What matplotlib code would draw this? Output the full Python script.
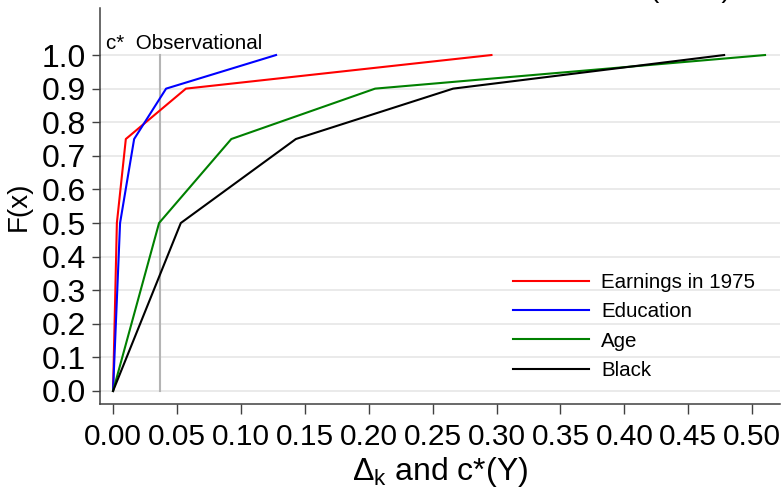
import matplotlib
matplotlib.use("Agg")
import matplotlib.pyplot as plt

plt.rcParams['font.family'] = ['Liberation Sans', 'DejaVu Sans']
plt.rcParams['mathtext.fontset'] = 'custom'
plt.rcParams['mathtext.rm'] = 'Liberation Sans'
plt.rcParams['mathtext.it'] = 'Liberation Sans:italic'

# CDF points for each covariate: (delta_k, F(x))
earn_x = [0.0, 0.003, 0.010, 0.057, 0.296]
earn_y = [0.0, 0.50, 0.75, 0.90, 1.00]
educ_x = [0.0, 0.0055, 0.0165, 0.0415, 0.1275]
educ_y = [0.0, 0.50, 0.75, 0.90, 1.00]
age_x = [0.0, 0.036, 0.0925, 0.205, 0.510]
age_y = [0.0, 0.50, 0.75, 0.90, 1.00]
black_x = [0.0, 0.053, 0.143, 0.266, 0.478]
black_y = [0.0, 0.50, 0.75, 0.90, 1.00]

c_star = 0.0368  # observational c*
xticks = [0.00, 0.05, 0.10, 0.15, 0.20, 0.25, 0.30, 0.35, 0.40, 0.45, 0.50]
yticks = [0.0, 0.1, 0.2, 0.3, 0.4, 0.5, 0.6, 0.7, 0.8, 0.9, 1.0]

fig = plt.figure(figsize=(7.83, 4.92), dpi=100)
ax = fig.add_axes([100/783, 1 - 404/492, 680/783, 396/492])

for yv in yticks:
    ax.axhline(yv, color='#e6e6e6', lw=1.2, zorder=0)

ax.plot([c_star, c_star], [0, 1.0], color='#b4b4b4', lw=1.5, zorder=1)
ax.text(-0.0055, 1.018, "c*  Observational", fontsize=14.8, ha='left', va='baseline')

ax.plot(earn_x, earn_y, color='#ff0000', lw=1.5, label='Earnings in 1975')
ax.plot(educ_x, educ_y, color='#0000ff', lw=1.5, label='Education')
ax.plot(age_x, age_y, color='#008000', lw=1.5, label='Age')
ax.plot(black_x, black_y, color='#000000', lw=1.5, label='Black')

ax.set_xlim(-0.0102, 0.5217)
ax.set_ylim(-0.0387, 1.14)
ax.set_xticks(xticks)
ax.set_xticklabels([f"{v:.2f}" for v in xticks])
ax.set_yticks(yticks)
ax.set_yticklabels([f"{v:.1f}" for v in yticks])

for s in ['top', 'right']:
    ax.spines[s].set_visible(False)
for s in ['left', 'bottom']:
    ax.spines[s].set_color('#404040')
    ax.spines[s].set_linewidth(1.1)
ax.tick_params(axis='x', length=7, width=1.0, color='#404040', labelsize=21.5, pad=7)
ax.tick_params(axis='y', length=6, width=1.0, color='#404040', labelsize=23, pad=4)

ax.set_ylabel("F(x)", fontsize=20)
ax.yaxis.set_label_coords(-0.10, 0.5)
ax.set_xlabel(r"$\mathregular{\Delta_k}$ and c*(Y)", fontsize=23)
ax.xaxis.set_label_coords(0.5, -0.128)

ax.legend(loc='upper left', bbox_to_anchor=(513/783, 1 - 273/492),
          bbox_transform=fig.transFigure, frameon=False, fontsize=14.8,
          handlelength=3.7, handletextpad=0.6, labelspacing=0.5,
          borderpad=0, borderaxespad=0)

# panel title sits above the canvas, only its bottom shows
fig.text(690/783, 1 + 3/492, "(        )", fontsize=20, ha='center', va='baseline')

fig.savefig("out.png", dpi=100)
